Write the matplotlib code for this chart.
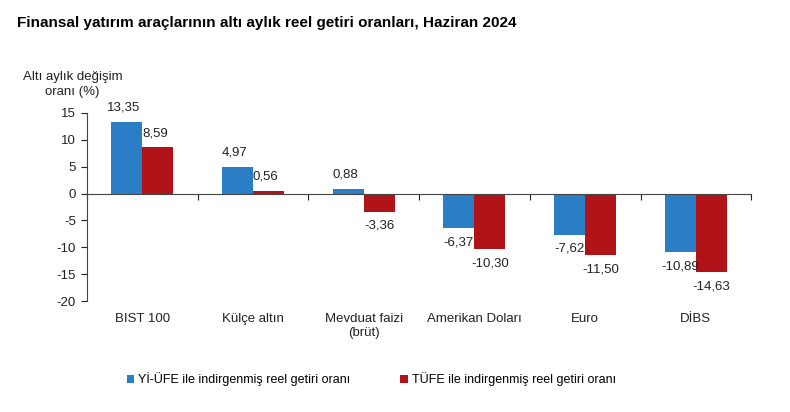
import matplotlib.pyplot as plt
import numpy as np

plt.rcParams['font.family'] = ['Liberation Sans', 'DejaVu Sans']
plt.rcParams['axes.unicode_minus'] = False

categories = ["BIST 100", "Külçe altın", "Mevduat faizi\n(brüt)", "Amerikan Doları", "Euro", "DİBS"]
yi_ufe = [13.35, 4.97, 0.88, -6.37, -7.62, -10.89]
tufe = [8.59, 0.56, -3.36, -10.30, -11.50, -14.63]
series_names = ["Yİ-ÜFE ile indirgenmiş reel getiri oranı", "TÜFE ile indirgenmiş reel getiri oranı"]

BLUE = '#2b7dc5'
RED = '#b01419'

fig = plt.figure(figsize=(7.9, 4.12), dpi=100)
ax = fig.add_axes([0.110, 0.269, 0.841, 0.457])

x = np.arange(len(categories))
w = 0.28
b1 = ax.bar(x - w/2, yi_ufe, w, color=BLUE, label=series_names[0])
b2 = ax.bar(x + w/2, tufe, w, color=RED, label=series_names[1])

def fmt(v):
    return "{:.2f}".format(v).replace(".", ",")

for bars, vals in ((b1, yi_ufe), (b2, tufe)):
    for bar, v in zip(bars, vals):
        cx = bar.get_x() + bar.get_width()/2
        if v >= 0:
            ax.annotate(fmt(v), (cx, v), xytext=(-2, 6), textcoords='offset points',
                        ha='center', va='bottom', fontsize=9.5, color='#222222')
        else:
            ax.annotate(fmt(v), (cx, v), xytext=(0, -6), textcoords='offset points',
                        ha='center', va='top', fontsize=9.5, color='#222222')

ax.set_xlim(-0.5, len(categories) - 0.5)
ax.set_ylim(-20, 15)
ax.set_yticks(np.arange(-20, 16, 5))
ax.tick_params(axis='y', labelsize=9.5, length=4, colors='#222222', pad=4)

# x axis on the zero line, ticks at category boundaries
ax.spines['bottom'].set_position(('data', 0))
ax.set_xticks(np.arange(-0.5, len(categories), 1.0))
ax.set_xticklabels([])
ax.tick_params(axis='x', length=4, direction='out', colors='#222222')
for s in ('top', 'right'):
    ax.spines[s].set_visible(False)
ax.spines['left'].set_color('#444444')
ax.spines['bottom'].set_color('#444444')

for i, c in enumerate(categories):
    ax.text(i, -0.065, c, transform=ax.get_xaxis_transform(), ha='center', va='top',
            fontsize=9.5, color='#222222', linespacing=1.2)

fig.text(0.022, 0.945, "Finansal yatırım araçlarının altı aylık reel getiri oranları, Haziran 2024",
         fontsize=11, fontweight='bold', ha='left', va='center')
fig.text(0.092, 0.795, "Altı aylık değişim\noranı (%)", fontsize=9.5, ha='center', va='center',
         color='#222222', linespacing=1.25)

fig.legend(handles=[b1, b2], loc='center', bbox_to_anchor=(0.47, 0.08), ncol=2, frameon=False,
           fontsize=9, handlelength=0.6, handleheight=0.6, handletextpad=0.3, columnspacing=4.0)

fig.savefig('out.png', dpi=100)
